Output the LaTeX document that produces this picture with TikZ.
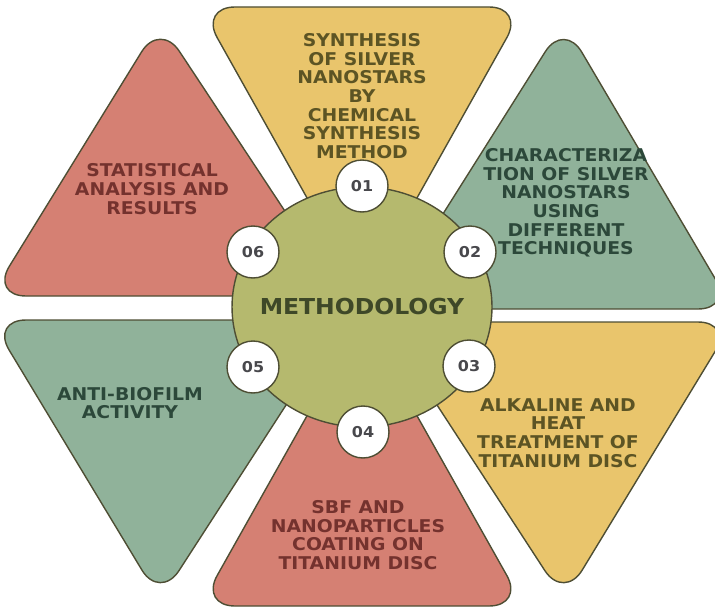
\documentclass[tikz,border=0pt]{standalone}
\usepackage{fontspec}
\setmainfont[FakeStretch=1.07]{DejaVu Sans}

\definecolor{petalyellow}{RGB}{233,197,108}
\definecolor{petalred}{RGB}{213,128,115}
\definecolor{petalgreen}{RGB}{144,178,154}
\definecolor{hubolive}{RGB}{181,185,110}
\definecolor{edgeline}{RGB}{78,78,52}
\definecolor{textyellow}{RGB}{92,84,36}
\definecolor{textred}{RGB}{116,50,46}
\definecolor{textgreen}{RGB}{44,72,58}
\definecolor{texthub}{RGB}{62,72,40}
\definecolor{textnum}{RGB}{72,72,76}

\begin{document}
\begin{tikzpicture}[
    x=0.02cm, y=-0.02cm,
    petal/.style={draw=edgeline, line width=0.8pt, rounded corners=0.7cm},
    boxtext/.style={align=center, font=\fontsize{10}{10.6}\selectfont\bfseries},
    hubshape/.style={draw=edgeline, line width=0.8pt, fill=hubolive},
    hub/.style={font=\fontsize{12.5}{14}\selectfont\bfseries, text=texthub},
    badge/.style={circle, draw=edgeline, line width=0.8pt, fill=white, minimum size=1.04cm, inner sep=0pt, font=\fontsize{8.5}{10}\selectfont\bfseries, text=textnum}
]
    \useasboundingbox (0,0) rectangle (715,608);

    % Petals
    \filldraw[petal, fill=petalyellow] (200,7) -- (524,7) -- (362,296) -- cycle;
    \filldraw[petal, fill=petalgreen] (564,22) -- (733,309) -- (383,309) -- cycle;
    \filldraw[petal, fill=petalyellow] (383,322) -- (733,322) -- (564,600) -- cycle;
    \filldraw[petal, fill=petalred] (200,606) -- (362,318) -- (524,606) -- cycle;
    \filldraw[petal, fill=petalgreen] (-9,320) -- (341,320) -- (160,600) -- cycle;
    \filldraw[petal, fill=petalred] (160,22) -- (341,296) -- (-9,296) -- cycle;

    % Petal texts
    \node[boxtext, text=textyellow] (synth) at (362,96) {SYNTHESIS\\OF SILVER\\NANOSTARS\\BY\\CHEMICAL\\SYNTHESIS\\METHOD};
    \node[boxtext, text=textgreen] (charac) at (566,203) {CHARACTERIZA\\TION OF SILVER\\NANOSTARS\\USING\\DIFFERENT\\TECHNIQUES};
    \node[boxtext, text=textyellow] (alkali) at (558,433) {ALKALINE AND\\HEAT\\TREATMENT OF\\TITANIUM DISC};
    \node[boxtext, text=textred] (coating) at (358,535) {SBF AND\\NANOPARTICLES\\COATING ON\\TITANIUM DISC};
    \node[boxtext, text=textgreen] (biofilm) at (130,403) {ANTI-BIOFILM\\ACTIVITY};
    \node[boxtext, text=textred] (stats) at (152,189) {STATISTICAL\\ANALYSIS AND\\RESULTS};

    % Hub
    \filldraw[hubshape] (362,307) ellipse [x radius=2.6cm, y radius=2.4cm];
    \node[hub] (hub) at (362,307) {METHODOLOGY};

    % Step numbers
    \node[badge] (n1) at (362,186) {01};
    \node[badge] (n2) at (470,252) {02};
    \node[badge] (n3) at (469,366) {03};
    \node[badge] (n4) at (363,432) {04};
    \node[badge] (n5) at (253,367) {05};
    \node[badge] (n6) at (253,252) {06};
\end{tikzpicture}
\end{document}
